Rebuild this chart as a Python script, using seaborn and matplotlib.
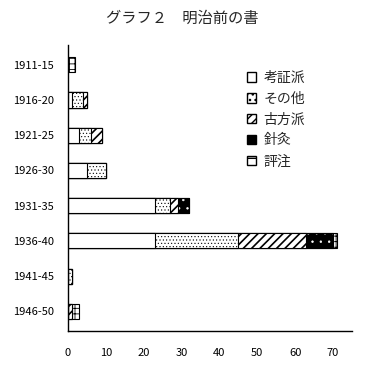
import numpy as np
import matplotlib
matplotlib.use("Agg")
import matplotlib.pyplot as plt
from matplotlib.patches import Patch
import seaborn as sns

# data
periods = ['1911-15', '1916-20', '1921-25', '1926-30', '1931-35', '1936-40', '1941-45', '1946-50']
kosho = [0, 1, 3, 5, 23, 23, 0, 0]     # 考証派
sonota = [0, 3, 3, 5, 4, 22, 1, 0]     # その他
kohou = [0, 1, 3, 0, 2, 18, 0, 1]      # 古方派
shinkyu = [0, 0, 0, 0, 3, 7, 0, 0]     # 針灸
hyochu = [2, 0, 0, 0, 0, 1, 0, 2]      # 評注
series_names = ['考証派', 'その他', '古方派', '針灸', '評注']

sns.set_style("white")
plt.rcParams['font.family'] = ['Noto Sans CJK JP', 'DejaVu Sans']

fig = plt.figure(figsize=(3.65, 3.72), dpi=100)
ax = fig.add_axes([0.186, 0.110, 0.778, 0.769])

series = [kosho, sonota, kohou, shinkyu, hyochu]
cum = np.cumsum(np.array(series), axis=0)
styles = [
    dict(face='white', hatch=None, hlw=1.0),
    dict(face='white', hatch='.....', hlw=0.4),
    dict(face='white', hatch='////', hlw=1.2),
    dict(face='black', hatch='..', hlw=0.5),
    dict(face='white', hatch='+++', hlw=0.6),
]
bw = 0.43

# draw from the outer segment inward so each overlay shows its own part
for i in range(len(series) - 1, -1, -1):
    st = styles[i]
    with plt.rc_context({'hatch.linewidth': st['hlw']}):
        if st['face'] == 'black':
            sns.barplot(x=cum[i], y=periods, orient='h', color='black', saturation=1,
                        width=bw, edgecolor='white', hatch=st['hatch'], linewidth=0, ax=ax)
            sns.barplot(x=cum[i], y=periods, orient='h', color='black', fill=False,
                        width=bw, linewidth=0.8, ax=ax)
        else:
            sns.barplot(x=cum[i], y=periods, orient='h', color=st['face'], saturation=1,
                        width=bw, edgecolor='black', hatch=st['hatch'], linewidth=0.8, ax=ax)

ax.set_xlim(0, 75)
ax.set_ylim(7.56, -0.56)
ax.set_xticks(range(0, 80, 10))
ax.set_xlabel('')
ax.set_ylabel('')
for s in ['top', 'right']:
    ax.spines[s].set_visible(False)
for s in ['left', 'bottom']:
    ax.spines[s].set_color('black')
    ax.spines[s].set_linewidth(1)
ax.tick_params(axis='x', direction='in', length=4, width=1, pad=12, labelsize=8, colors='black')
ax.tick_params(axis='y', length=0, pad=10, labelsize=8, colors='black')

with plt.rc_context({'hatch.linewidth': 0.6}):
    handles = [Patch(facecolor='white', edgecolor='black', hatch=None),
               Patch(facecolor='white', edgecolor='black', hatch='...'),
               Patch(facecolor='white', edgecolor='black', hatch='////'),
               Patch(facecolor='black', edgecolor='black'),
               Patch(facecolor='white', edgecolor='black', hatch='+')]
ax.legend(handles, series_names, loc='upper left', bbox_to_anchor=(0.61, 0.93),
          frameon=False, fontsize=10, handlelength=0.7, handleheight=0.7,
          handletextpad=0.5, labelspacing=0.5, borderaxespad=0)

fig.text(0.5, 0.95, 'グラフ２　明治前の書', ha='center', va='center', fontsize=11)

fig.savefig('out.png', dpi=100)
